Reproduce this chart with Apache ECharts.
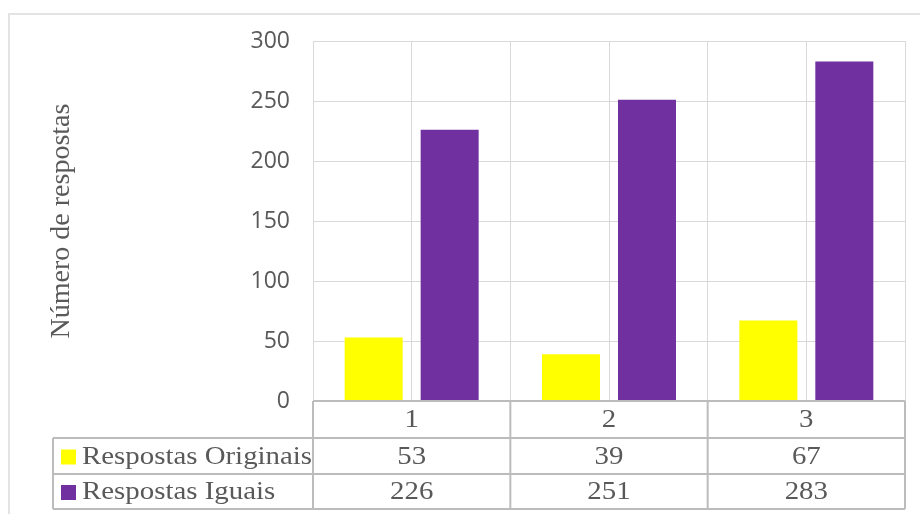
<!DOCTYPE html>
<html>
<head>
<meta charset="utf-8">
<script src="https://cdn.jsdelivr.net/npm/echarts@6/dist/echarts.min.js"></script>
<style>html,body{margin:0;padding:0;background:#fff}#c{width:920px;height:514px}</style>
</head>
<body>
<div id="c"></div>
<script>
const categories = ['1', '2', '3'];
const seriesNames = ['Respostas Originais', 'Respostas Iguais'];
const originais = [53, 39, 67];
const iguais = [226, 251, 283];
const seriesColors = ['#FFFF00', '#7030A0'];
const yMin = 0, yMax = 300, yStep = 50;
const yTitle = 'Número de respostas';

const serif = '"Liberation Serif", "Times New Roman", serif';
const sans = '"Open Sans", "Liberation Sans", sans-serif';
const textColor = '#595959';
const gridColor = '#d9d9d9';
const tableColor = '#bcbcbc';

const chart = echarts.init(document.getElementById('c'), null, {renderer: 'canvas'});
chart.setOption({
  animation: false,
  backgroundColor: '#fff',
  grid: {left: 313, right: 15, top: 41, bottom: 113, containLabel: false},
  xAxis: [
    {
      type: 'category', data: categories,
      axisLine: {show: false}, axisTick: {show: false},
      axisLabel: {show: false}, splitLine: {show: false}
    },
    {
      type: 'value', min: 0, max: categories.length * 2, interval: 1,
      show: true, axisLine: {show: false}, axisTick: {show: false}, axisLabel: {show: false},
      splitLine: {show: true, lineStyle: {color: gridColor, width: 1}}
    }
  ],
  yAxis: {
    type: 'value', min: yMin, max: yMax, interval: yStep,
    name: yTitle, nameLocation: 'middle', nameGap: 237, nameRotate: 90,
    nameTextStyle: {fontFamily: serif, fontSize: 28, color: textColor},
    axisLine: {show: false}, axisTick: {show: false},
    axisLabel: {margin: 23, fontFamily: sans, fontSize: 23, color: textColor},
    splitLine: {show: true, lineStyle: {color: gridColor, width: 1}}
  },
  series: [
    {name: seriesNames[0], type: 'bar', data: originais, barWidth: 58, barGap: '31%',
     itemStyle: {color: seriesColors[0]}},
    {name: seriesNames[1], type: 'bar', data: iguais, barWidth: 58, barGap: '31%',
     itemStyle: {color: seriesColors[1]}}
  ]
});

// Data table built from the axes' own scales
const xb = k => chart.convertToPixel({xAxisIndex: 1}, k);
const y0 = chart.convertToPixel({yAxisIndex: 0}, 0);
const rows = [y0, y0 + 37, y0 + 73, y0 + 108];
const edges = [];
for (let i = 0; i <= categories.length; i++) edges.push(xb(i * 2));
const tableLeft = 53;
const g = [];
// outer chart border
g.push({type: 'rect', shape: {x: 9, y: 14, width: 930, height: 520}, style: {fill: null, stroke: '#e3e3e3', lineWidth: 2}, z: 1});
const line = (x1, y1, x2, y2) => g.push({type: 'line', shape: {x1, y1, x2, y2}, style: {stroke: tableColor, lineWidth: 2}, z: 10});
line(edges[0], rows[0], edges[edges.length - 1], rows[0]);
for (let r = 1; r < rows.length; r++) line(tableLeft, rows[r], edges[edges.length - 1], rows[r]);
line(tableLeft, rows[1], tableLeft, rows[3]);
edges.forEach(x => line(x, rows[0], x, rows[3]));
const txt = (s, x, y, align) => g.push({type: 'text', x, y, scaleX: 1.11, z: 11, style: {text: s, fill: textColor, font: '26px ' + serif, textAlign: align, textVerticalAlign: 'middle'}});
categories.forEach((c, i) => txt(c, (edges[i] + edges[i + 1]) / 2, (rows[0] + rows[1]) / 2 + 1, 'center'));
const vals = [originais, iguais];
vals.forEach((arr, r) => {
  const yc = (rows[r + 1] + rows[r + 2]) / 2 + 1;
  g.push({type: 'rect', shape: {x: 61, y: yc - 7.5, width: 15, height: 15}, style: {fill: seriesColors[r]}, z: 11});
  txt(seriesNames[r], 82, yc, 'left');
  arr.forEach((v, i) => txt(String(v), (edges[i] + edges[i + 1]) / 2, yc, 'center'));
});
chart.setOption({graphic: g});
</script>
</body>
</html>
